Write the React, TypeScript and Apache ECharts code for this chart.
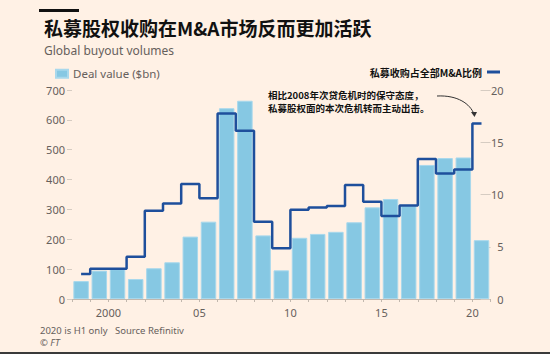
import React, { useEffect, useRef } from "react";
import * as echarts from "echarts";

const years = [1998, 1999, 2000, 2001, 2002, 2003, 2004, 2005, 2006, 2007, 2008, 2009, 2010, 2011, 2012, 2013, 2014, 2015, 2016, 2017, 2018, 2019, 2020];
const dealValue = [60, 95, 100, 67, 103, 123, 209, 259, 639, 664, 213, 96, 205, 218, 225, 257, 307, 335, 312, 449, 472, 474, 197];
const peShare = [2.4, 2.9, 2.9, 4.05, 8.45, 9.15, 11.0, 9.65, 17.75, 16.1, 7.4, 4.85, 8.55, 8.75, 8.9, 10.9, 9.3, 7.95, 8.95, 13.4, 12.0, 12.4, 16.8];
const xTickYears = [2000, 2005, 2010, 2015, 2020];
const xTickLabels = ["2000", "05", "10", "15", "20"];

const TITLE = "私募股权收购在M&A市场反而更加活跃";
const SUBTITLE = "Global buyout volumes";
const BAR_NAME = "Deal value ($bn)";
const LINE_NAME = "私募收购占全部M&A比例";
const NOTE_LINES = ["相比2008年次贷危机时的保守态度，", "私募股权面的本次危机转而主动出击。"];
const FOOTER_SOURCE = "2020 is H1 only   Source Refinitiv";

const LATIN = "'Noto Sans', 'Noto Sans CJK SC', sans-serif";
const CJK = "'Noto Sans CJK SC', 'Noto Sans', sans-serif";
const GREY = "#66605C";

export default function App() {
  const ref = useRef<HTMLDivElement>(null);
  useEffect(() => {
    if (!ref.current) return;
    const chart = echarts.init(ref.current, undefined, { renderer: "svg" });
    const option = {
      animation: false,
      backgroundColor: "#FFF1E5",
      title: [
        {
          text: TITLE,
          left: 39,
          top: 13,
          textStyle: { fontFamily: CJK, fontSize: 19, fontWeight: "bold", color: "#111" },
        },
        {
          text: SUBTITLE,
          left: 39,
          top: 39,
          textStyle: { fontFamily: LATIN, fontSize: 12, fontWeight: "normal", color: GREY },
        },
      ],
      legend: [
        {
          data: [BAR_NAME],
          left: 50,
          top: 63,
          itemWidth: 12,
          itemHeight: 8,
          icon: "rect",
          textStyle: { fontFamily: LATIN, fontSize: 11.5, color: GREY },
          selectedMode: false,
        },
        {
          data: [{ name: LINE_NAME, icon: "rect" }],
          right: 45,
          top: 62,
          align: "right",
          itemWidth: 13,
          itemHeight: 3,
          textStyle: { fontFamily: CJK, fontSize: 10, fontWeight: "bold", color: "#111" },
          selectedMode: false,
        },
      ],
      grid: { left: 72, right: 59.4, top: 90, bottom: 55, containLabel: false },
      xAxis: {
        type: "value",
        min: 1998,
        max: 2021,
        interval: 1,
        splitLine: { show: false },
        axisLine: { show: true, lineStyle: { color: "#c2b8ae", width: 1 } },
        axisTick: { show: true, length: 3, lineStyle: { color: "#c2b8ae" } },
        axisLabel: {
          margin: 8,
          fontFamily: LATIN,
          fontSize: 11,
          color: GREY,
          showMinLabel: true,
          showMaxLabel: true,
          formatter: (v: number) => {
            const i = xTickYears.indexOf(Math.round(v));
            return i >= 0 ? xTickLabels[i] : "";
          },
        },
      },
      yAxis: [
        {
          type: "value",
          min: 0,
          max: 700,
          interval: 100,
          position: "left",
          splitLine: { show: false },
          axisLine: { show: false },
          axisTick: { show: true, length: 5, lineStyle: { color: "#d6ccc2" } },
          axisLabel: { margin: 7, fontFamily: LATIN, fontSize: 11, color: GREY },
        },
        {
          type: "value",
          min: 0,
          max: 20,
          interval: 5,
          position: "right",
          splitLine: { show: false },
          axisLine: { show: false },
          axisTick: { show: true, inside: true, length: 10, lineStyle: { color: "#d6ccc2" } },
          axisLabel: { margin: 13, align: "right", fontFamily: LATIN, fontSize: 11, color: GREY },
        },
      ],
      series: [
        {
          name: BAR_NAME,
          type: "bar",
          yAxisIndex: 0,
          barWidth: 15.5,
          itemStyle: { color: "#86C8E3", borderColor: "#a8d8ec", borderWidth: 1 },
          data: years.map((y, i) => [y + 0.5, dealValue[i]]),
          z: 2,
        },
        {
          name: LINE_NAME,
          type: "line",
          yAxisIndex: 1,
          step: "middle",
          showSymbol: false,
          symbol: "none",
          color: "#1E4F9C",
          lineStyle: { color: "#1E4F9C", width: 2.5 },
          data: years.map((y, i) => [y + 0.5, peShare[i]]),
          z: 3,
        },
      ],
      graphic: [
        { type: "rect", shape: { x: 39, y: 9, width: 40, height: 3 }, style: { fill: "#111" } },
        {
          type: "text",
          style: {
            x: 268,
            y: 94.5,
            text: NOTE_LINES[0],
            font: `bold 9.5px ${CJK}`,
            fill: "#111",
            textVerticalAlign: "middle",
          },
        },
        {
          type: "text",
          style: {
            x: 268,
            y: 108,
            text: NOTE_LINES[1],
            font: `bold 9.5px ${CJK}`,
            fill: "#111",
            textVerticalAlign: "middle",
          },
        },
        {
          type: "bezierCurve",
          shape: { x1: 437, y1: 96, cpx1: 458, cpy1: 95, cpx2: 470, cpy2: 104, x2: 474, y2: 114 },
          style: { stroke: "#333", lineWidth: 1, fill: "none" },
        },
        {
          type: "polygon",
          shape: { points: [[471, 112], [477, 112], [474.5, 117]] },
          style: { fill: "#333" },
        },
        {
          type: "text",
          style: {
            x: 40,
            y: 330.5,
            text: FOOTER_SOURCE,
            font: `9.5px ${LATIN}`,
            fill: GREY,
            textVerticalAlign: "middle",
          },
        },
        {
          type: "text",
          style: {
            x: 40,
            y: 342,
            text: "© {i|FT}",
            font: `9.5px ${LATIN}`,
            fill: GREY,
            textVerticalAlign: "middle",
            rich: { i: { fontStyle: "italic", fontSize: 9.5, fontFamily: LATIN, color: GREY } },
          },
        },
        { type: "rect", shape: { x: 0, y: 352, width: 550, height: 2 }, style: { fill: "#3a3a3a" } },
      ],
    };
    chart.setOption(option as any);
    return () => chart.dispose();
  }, []);
  return (
    <div
      ref={ref}
      style={{ position: "fixed", left: 0, top: 0, width: 550, height: 354 }}
    />
  );
}
